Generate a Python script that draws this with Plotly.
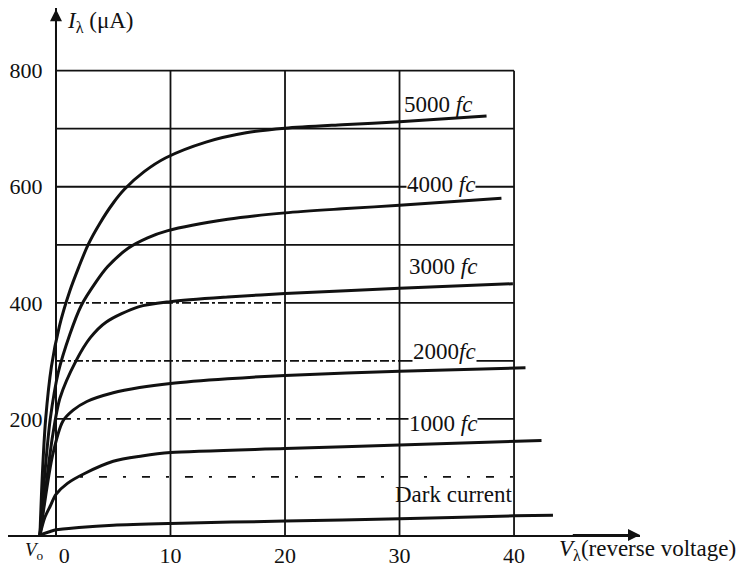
import plotly.graph_objects as go

# ---- data ----
V_5000 = [-1.4, -1.2, -0.9, -0.4, 0.3, 1.2, 2.0, 2.8, 3.8, 5.0, 6.0, 7.7, 9.6, 13.1, 16.6, 20, 25, 30, 37.6]
I_5000 = [0, 100, 200, 290, 360, 420, 462, 500, 536, 572, 596, 626, 650, 677, 693, 701, 707, 712, 722]

V_4000 = [-1.4, -1.0, -0.5, 0.2, 1.2, 2.2, 3.5, 4.5, 6.3, 8.0, 9.7, 15, 20, 25, 30, 38.9]
I_4000 = [0, 100, 200, 280, 345, 395, 436, 462, 494, 512, 524, 544, 555, 562, 568, 580]

V_3000 = [-1.4, -0.9, -0.3, 0.35, 1.75, 3, 4.4, 7.2, 10, 15, 20, 30, 39.9]
I_3000 = [0, 80, 170, 236, 300, 340, 367, 393, 402, 410, 416, 425, 433]

V_2000 = [-1.4, -1.1, -0.3, 0.6, 1.5, 2.7, 5, 7.3, 10, 15, 20, 30, 41]
I_2000 = [0, 41, 137, 196, 215, 230, 245, 254, 261, 269, 275, 282, 288]

V_1000 = [-1.4, -1.0, -0.5, 0, 1, 2.5, 5, 7.5, 10, 20, 30, 42.4]
I_1000 = [0, 29, 50, 70, 89, 106, 127, 136, 142, 149, 155, 163]

V_dark = [-1.4, -0.5, 0, 2, 5, 10, 20, 30, 40, 43.4]
I_dark = [0, 6, 9, 13, 17, 20, 24, 28, 33, 34]

curve_labels = ["5000 <i>fc</i>", "4000 <i>fc</i>", "3000 <i>fc</i>", "2000<i>fc</i>", "1000 <i>fc</i>", "Dark current"]
label_V = [33.4, 33.6, 33.8, 33.9, 33.8, 39.9]
label_I = [742, 604, 463, 316, 192, 69]

x_ticks = [0, 10, 20, 30, 40]
x_ticktext = ["\u00a0\u00a0\u00a00", "10", "20", "30", "40"]
y_ticks = [200, 400, 600, 800]
grid_V = [10, 20, 30, 40]
grid_I = [100, 200, 300, 400, 500, 600, 700, 800]

BLACK = "#111111"
FONT = "Liberation Serif"

fig = go.Figure()
for V, I in [(V_5000, I_5000), (V_4000, I_4000), (V_3000, I_3000),
             (V_2000, I_2000), (V_1000, I_1000), (V_dark, I_dark)]:
    fig.add_trace(go.Scatter(x=V, y=I, mode="lines",
                             line=dict(color=BLACK, width=3, shape="spline", smoothing=0.8),
                             showlegend=False, hoverinfo="skip"))

# grid (styled like the printed figure)
h_dash = {800: "solid", 700: "solid", 600: "solid", 500: "solid",
          400: "dashdot", 300: "dashdot", 200: "longdashdot", 100: "8px,16px,3px,16px"}
h_split = {400: 20, 300: 30, 200: 30}
for g in grid_I:
    d = h_dash[g]
    if g in h_split:
        fig.add_shape(type="line", x0=0, x1=h_split[g], y0=g, y1=g,
                      line=dict(color=BLACK, width=1.8, dash=d), layer="below")
        fig.add_shape(type="line", x0=h_split[g], x1=grid_V[-1], y0=g, y1=g,
                      line=dict(color=BLACK, width=1.8), layer="below")
    else:
        fig.add_shape(type="line", x0=0, x1=grid_V[-1], y0=g, y1=g,
                      line=dict(color=BLACK, width=1.8, dash=d), layer="below")
for g in grid_V:
    fig.add_shape(type="line", x0=g, x1=g, y0=0, y1=grid_I[-1],
                  line=dict(color=BLACK, width=1.8), layer="below")

# curve labels
for k, (t, vx, iy) in enumerate(zip(curve_labels, label_V, label_I)):
    bg = "white" if k in (1, 3, 4) else None
    fig.add_annotation(x=vx, y=iy, text=t, showarrow=False,
                       xanchor="right" if k == 5 else "center", yanchor="middle",
                       font=dict(family=FONT, size=23, color=BLACK),
                       bgcolor=bg, borderpad=0)

# axis arrows
fig.add_annotation(x=51.0, y=0, ax=45, ay=0, xref="x", yref="y", axref="x", ayref="y",
                   showarrow=True, arrowhead=2, arrowsize=1.2, arrowwidth=2, arrowcolor=BLACK, text="")
fig.add_annotation(x=0, y=906, ax=0, ay=850, xref="x", yref="y", axref="x", ayref="y",
                   showarrow=True, arrowhead=2, arrowsize=1.2, arrowwidth=2, arrowcolor=BLACK, text="")

# axis titles
fig.add_annotation(x=57 / 632, y=0.9735, xref="paper", yref="paper", xanchor="left", yanchor="middle",
                   text="<i>I</i><sub>λ</sub> (μA)", showarrow=False,
                   font=dict(family=FONT, size=23, color=BLACK))
fig.add_annotation(x=549 / 632, y=-0.0284, xref="paper", yref="paper", xanchor="left", yanchor="middle",
                   text="<i>V</i><sub>λ</sub>(reverse voltage)", showarrow=False,
                   font=dict(family=FONT, size=23, color=BLACK))
fig.add_annotation(x=26 / 632, y=-0.03, xref="paper", yref="paper", xanchor="center", yanchor="middle",
                   text="<i>V</i><sub>o</sub>", showarrow=False,
                   font=dict(family=FONT, size=19, color=BLACK))

fig.update_layout(
    width=736, height=560,
    margin=dict(l=0, r=104, t=0, b=31),
    paper_bgcolor="white", plot_bgcolor="white",
    xaxis=dict(range=[-4.19, 51.0], showgrid=False, zeroline=False,
               showline=True, linecolor=BLACK, linewidth=2,
               tickvals=x_ticks, ticktext=x_ticktext, ticks="",
               tickfont=dict(family=FONT, size=22, color=BLACK)),
    yaxis=dict(range=[0, 908], showgrid=False, zeroline=False,
               anchor="free", position=48 / 632,
               showline=True, linecolor=BLACK, linewidth=2,
               tickvals=y_ticks, ticktext=[str(v) for v in y_ticks],
               ticks="outside", ticklen=8, tickcolor="rgba(0,0,0,0)",
               tickfont=dict(family=FONT, size=22, color=BLACK)),
)

fig.write_html("out.html")
